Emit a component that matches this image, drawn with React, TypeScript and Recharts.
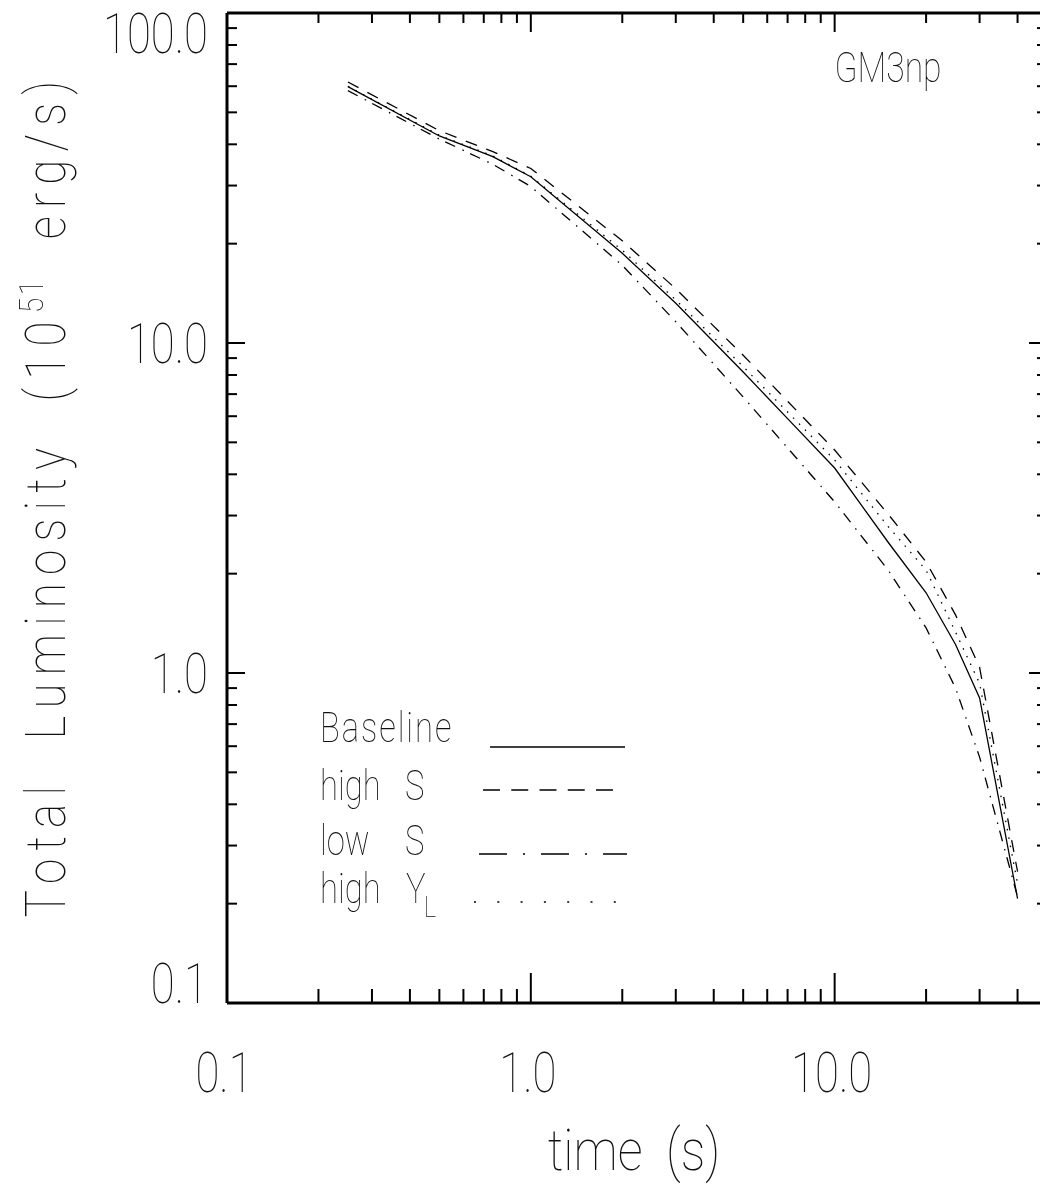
import React from 'react';
import { LineChart, Line, XAxis, YAxis, Legend } from 'recharts';

// ---- data ----
const times = [0.25, 0.5, 0.75, 1, 2, 3, 5, 7, 10, 15, 20, 25, 30, 40];
const baseline = [59.8, 42.4, 36.7, 31.9, 18.7, 13.2, 8.17, 5.9, 4.18, 2.49, 1.75, 1.22, 0.84, 0.207];
const highS = [61.8, 44.0, 38.0, 33.8, 20.4, 14.6, 9.18, 6.66, 4.74, 3.03, 2.17, 1.5, 1.04, 0.25];
const lowS = [58.2, 41.5, 34.8, 29.8, 17.2, 11.6, 6.86, 4.81, 3.3, 2.05, 1.37, 0.9, 0.556, 0.21];
const highYL = [60.0, 42.6, 36.9, 32.0, 19.1, 13.5, 8.48, 6.18, 4.42, 2.78, 2.05, 1.33, 0.93, 0.23];

const xTicks = [0.1, 0.2, 0.3, 0.4, 0.5, 0.6, 0.7, 0.8, 0.9, 1, 2, 3, 4, 5, 6, 7, 8, 9, 10, 20, 30, 40];
const xMajor = [0.1, 1, 10];
const xMajorLabels = ['0.1', '1.0', '10.0'];
const yTicks = [0.1, 0.2, 0.3, 0.4, 0.5, 0.6, 0.7, 0.8, 0.9, 1, 2, 3, 4, 5, 6, 7, 8, 9, 10, 20, 30, 40, 50, 60, 70, 80, 90, 100];
const yMajor = [0.1, 1, 10, 100];
const yMajorLabels = ['0.1', '1.0', '10.0', '100.0'];

const seriesKeys = ['baseline', 'highS', 'lowS', 'highYL'];
const seriesNames = ['Baseline', 'high S', 'low S', 'high YL'];

const data = times.map((t, i) => ({
  t,
  baseline: baseline[i],
  highS: highS[i],
  lowS: lowS[i],
  highYL: highYL[i],
}));

// ---- styling ----
const FONT = "Roboto, 'DejaVu Sans', sans-serif";
const W = 1060;
const H = 1185;
const PLOT_TOP = 13;
const PLOT_BOTTOM = 1003;
const PLOT_LEFT = 227;
const SX = 0.78;

const lineDash: Record<string, string | undefined> = {
  baseline: undefined,
  highS: '12 10',
  lowS: '11 8 1.5 7',
  highYL: '1.5 7',
};

function T(props: any) {
  const { x, y, size, anchor = 'start', sx = SX, ls = 0, children } = props;
  return (
    <text
      transform={`translate(${x},${y}) scale(${sx},1)`}
      x={0}
      y={0}
      fontSize={size}
      fontFamily={FONT}
      fontWeight={100}
      textAnchor={anchor}
      letterSpacing={ls}
      fill="#111"
      style={{ whiteSpace: 'pre' }}
    >
      {children}
    </text>
  );
}

function BottomTick(props: any) {
  const { x, y, payload } = props;
  const idx = xMajor.indexOf(payload.value);
  const major = idx >= 0;
  return (
    <g>
      <line x1={x} y1={y} x2={x} y2={y - (major ? 30 : 14)} stroke="#000" strokeWidth={2} />
      {major && (
        <T x={x - 3} y={1092} size={56} anchor="middle">
          {xMajorLabels[idx]}
        </T>
      )}
    </g>
  );
}

function TopTick(props: any) {
  const { x, y, payload } = props;
  const major = xMajor.indexOf(payload.value) >= 0;
  return <line x1={x} y1={y} x2={x} y2={y + (major ? 19 : 10)} stroke="#000" strokeWidth={2} />;
}

function LeftTick(props: any) {
  const { x, y, payload } = props;
  const idx = yMajor.indexOf(payload.value);
  const major = idx >= 0;
  const base = Math.min(Math.max(y + 20, PLOT_TOP + 40), PLOT_BOTTOM);
  return (
    <g>
      <line x1={x} y1={y} x2={x + (major ? 18 : 10)} y2={y} stroke="#000" strokeWidth={2} />
      {major && (
        <T x={208} y={base} size={56} anchor="end">
          {yMajorLabels[idx]}
        </T>
      )}
    </g>
  );
}

function RightTick(props: any) {
  const { x, y, payload } = props;
  const major = yMajor.indexOf(payload.value) >= 0;
  return <line x1={x} y1={y} x2={x - (major ? 18 : 10)} y2={y} stroke="#000" strokeWidth={2} />;
}

function XTitle() {
  return (
    <T x={634} y={1170} size={58} anchor="middle" sx={0.85}>
      {'time  (s)'}
    </T>
  );
}

function YTitle() {
  return (
    <text
      transform={`translate(65,495) rotate(-90) scale(0.82,1)`}
      x={0}
      y={0}
      fontSize={56}
      fontFamily={FONT}
      fontWeight={100}
      textAnchor="middle"
      fill="#111"
      letterSpacing={10}
      style={{ whiteSpace: 'pre' }}
    >
      {'Total  Luminosity  (10'}
      <tspan dy={-22} fontSize={34} letterSpacing={3}>
        51
      </tspan>
      <tspan dy={22}>{'  erg/s)'}</tspan>
    </text>
  );
}

const legendRows: Record<string, { y: number; x1: number; x2: number; ly: number; dash?: string }> = {
  baseline: { y: 742, x1: 490, x2: 625, ly: 747 },
  highS: { y: 800, x1: 483, x2: 613, ly: 790, dash: '17 11.25' },
  lowS: { y: 855, x1: 479, x2: 627, ly: 854, dash: '28 16 2 16' },
  highYL: { y: 903, x1: 474, x2: 616, ly: 902, dash: '2 21.3' },
};

function LegendContent(props: any) {
  const payload = props.payload || [];
  return (
    <svg width={W} height={H} style={{ position: 'absolute', left: 0, top: 0 }}>
      <T x={888} y={82} size={42} anchor="middle" sx={0.8}>
        GM3np
      </T>
      {payload.map((entry: any) => {
        const key = String(entry.dataKey);
        const row = legendRows[key];
        if (!row) return null;
        const name = seriesNames[seriesKeys.indexOf(key)];
        let label: React.ReactNode;
        if (key === 'baseline') {
          label = <T x={320} y={row.y} size={42} ls={2.5}>{name}</T>;
        } else if (key === 'highYL') {
          label = (
            <g>
              <T x={320} y={row.y} size={42}>high</T>
              <T x={406} y={row.y} size={42}>Y</T>
              <T x={424} y={row.y + 14} size={30}>L</T>
            </g>
          );
        } else {
          const [a, b] = name.split(' ');
          label = (
            <g>
              <T x={320} y={row.y} size={42}>{a}</T>
              <T x={405} y={row.y} size={42}>{b}</T>
            </g>
          );
        }
        return (
          <g key={key}>
            {label}
            <line
              x1={row.x1}
              x2={row.x2}
              y1={row.ly}
              y2={row.ly}
              stroke="#000"
              strokeWidth={1.6}
              strokeDasharray={row.dash}
            />
          </g>
        );
      })}
    </svg>
  );
}

export default function App() {
  return (
    <div
      style={{
        position: 'absolute',
        left: 0,
        top: 0,
        width: 1040,
        height: 1185,
        overflow: 'hidden',
        background: '#fff',
        filter: 'grayscale(1)',
      }}
    >
      <LineChart width={W} height={H} data={data} margin={{ top: 12, right: 12, bottom: 0, left: 0 }}>
        <XAxis
          xAxisId="b"
          dataKey="t"
          type="number"
          scale="log"
          domain={[0.1, 50]}
          allowDataOverflow
          ticks={xTicks}
          interval={0}
          tickSize={0}
          tickMargin={0}
          tickLine={false}
          tick={(p: any) => <BottomTick {...p} />}
          axisLine={{ stroke: '#000', strokeWidth: 3 }}
          height={182}
          label={<XTitle />}
        />
        <XAxis
          xAxisId="t"
          orientation="top"
          dataKey="t"
          type="number"
          scale="log"
          domain={[0.1, 50]}
          allowDataOverflow
          ticks={xTicks}
          interval={0}
          tickSize={0}
          tickMargin={0}
          tickLine={false}
          tick={(p: any) => <TopTick {...p} />}
          axisLine={{ stroke: '#000', strokeWidth: 3 }}
          height={1}
        />
        <YAxis
          yAxisId="l"
          type="number"
          scale="log"
          domain={[0.1, 100]}
          allowDataOverflow
          ticks={yTicks}
          interval={0}
          tickSize={0}
          tickMargin={0}
          tickLine={false}
          tick={(p: any) => <LeftTick {...p} />}
          axisLine={{ stroke: '#000', strokeWidth: 3 }}
          width={PLOT_LEFT}
          label={<YTitle />}
        />
        <YAxis
          yAxisId="r"
          orientation="right"
          type="number"
          scale="log"
          domain={[0.1, 100]}
          allowDataOverflow
          ticks={yTicks}
          interval={0}
          tickSize={0}
          tickMargin={0}
          tickLine={false}
          tick={(p: any) => <RightTick {...p} />}
          axisLine={{ stroke: '#000', strokeWidth: 3 }}
          width={1}
        />
        {seriesKeys.map((k, i) => (
          <Line
            key={k}
            xAxisId="b"
            yAxisId="l"
            type="linear"
            dataKey={k}
            name={seriesNames[i]}
            stroke="#000"
            strokeWidth={1.3}
            strokeDasharray={lineDash[k]}
            dot={false}
            activeDot={false}
            isAnimationActive={false}
          />
        ))}
        <Legend
          layout="horizontal"
          verticalAlign="middle"
          align="center"
          wrapperStyle={{ position: 'absolute', left: 0, top: 0, width: W, height: H, pointerEvents: 'none' }}
          content={(p: any) => <LegendContent {...p} />}
        />
      </LineChart>
    </div>
  );
}
